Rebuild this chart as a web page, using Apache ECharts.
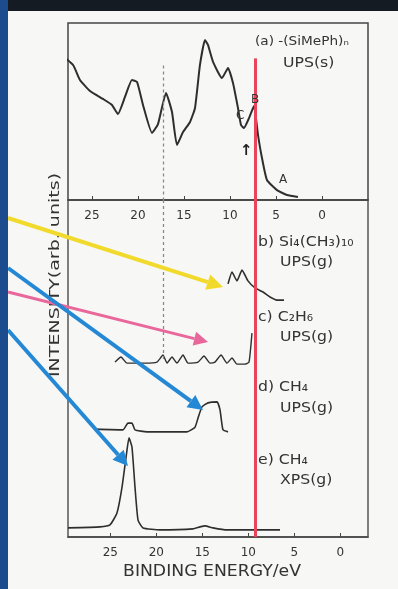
<!DOCTYPE html>
<html>
<head>
<meta charset="utf-8">
<script src="https://cdn.jsdelivr.net/npm/echarts@6/dist/echarts.min.js"></script>
<style>
  html, body { margin: 0; padding: 0; background: #f7f8f6; }
  #chart { width: 398px; height: 589px; }
</style>
</head>
<body>
<div id="chart"></div>
<script>
// (a) polysilane solid-state UPS, upper scale (eV) and intensity (arb.)
const aEnergy    = [29.0, 27.06, 26.30, 25.21, 23.80, 22.82, 22.17, 21.41, 20.65, 20.10, 19.45, 18.47, 17.82, 16.95, 16.30, 15.76, 15.10, 14.34, 13.80, 13.26, 12.71, 12.39, 11.84, 10.87, 10.21, 9.67, 9.13, 8.80, 8.48, 7.93, 7.39, 6.95, 6.52, 5.98, 4.89, 3.80, 2.61];
const aIntensity = [84.7, 76.3, 67.8, 61.6, 57.1, 53.7, 48.6, 58.2, 67.8, 66.7, 53.7, 37.9, 42.9, 60.5, 49.7, 31.1, 38.4, 44.1, 52.0, 76.3, 90.4, 87.6, 78.0, 68.9, 74.6, 66.1, 52.0, 42.4, 40.7, 46.3, 53.1, 36.7, 23.7, 11.3, 5.6, 2.8, 1.7];

// (b) Si4(CH3)10 gas UPS, lower scale
const bEnergy    = [12.21, 11.78, 11.24, 10.69, 10.04, 9.28, 8.41, 7.65, 6.89, 6.13];
const bIntensity = [75.1, 78.6, 76.0, 79.2, 76.0, 73.9, 72.7, 71.2, 70.3, 70.3];

// (c) C2H6 gas UPS
const cEnergy    = [24.49, 23.84, 23.19, 21.23, 19.93, 19.28, 18.84, 18.30, 17.76, 17.10, 16.56, 15.47, 14.82, 14.17, 13.63, 12.97, 12.32, 11.78, 11.24, 10.37, 9.93, 9.61];
const cIntensity = [51.9, 53.4, 51.6, 51.6, 51.9, 54.0, 51.6, 53.4, 51.6, 54.0, 51.6, 51.9, 53.7, 51.6, 51.9, 54.0, 51.6, 53.1, 51.3, 51.3, 51.9, 60.5];

// (d) CH4 gas UPS
const dEnergy    = [26.67, 23.62, 23.08, 22.65, 22.32, 21.02, 16.67, 15.80, 15.47, 15.04, 14.39, 13.41, 13.08, 12.76, 12.21];
const dIntensity = [32.0, 31.8, 33.8, 33.8, 31.8, 31.2, 31.2, 32.6, 35.3, 38.6, 39.8, 40.1, 37.7, 31.8, 31.2];

// (e) CH4 gas XPS
const eEnergy    = [29.6, 26.12, 25.04, 24.28, 23.73, 23.19, 22.97, 22.65, 22.32, 21.99, 21.45, 19.60, 16.02, 15.26, 14.71, 13.84, 12.32, 9.61, 6.56];
const eIntensity = [2.7, 3.0, 3.6, 7.1, 14.8, 25.8, 29.4, 26.7, 14.8, 5.0, 2.7, 2.1, 2.4, 3.0, 3.3, 2.7, 2.1, 2.1, 2.1];

// axis ticks
const tickValues = [0, 5, 10, 15, 20, 25];

// reference lines: [upper-scale eV, lower-scale eV]
const vacuumLineEV = [7.28, 9.28];
const dashedLineEV = [17.28, 19.28];

const pairs = (xs, ys) => xs.map((x, i) => [x, ys[i]]);

const FONT = 'DejaVu Sans';
const INK = '#2e2e2e';

function axisX(gridIndex, min, max) {
  return {
    type: 'value', gridIndex, min, max, inverse: true, position: 'bottom',
    axisLine: { show: true, lineStyle: { color: '#444', width: 1.5 } },
    axisTick: { show: true, inside: true, length: 4, customValues: tickValues, lineStyle: { color: '#444' } },
    axisLabel: { customValues: tickValues, margin: 10, fontFamily: FONT, fontSize: 12, color: '#333' },
    splitLine: { show: false }
  };
}
function axisY(gridIndex) {
  return { type: 'value', gridIndex, min: 0, max: 100, show: false, splitLine: { show: false } };
}
function spectrum(name, xs, ys, grid, width) {
  return {
    name, type: 'line', xAxisIndex: grid, yAxisIndex: grid,
    data: pairs(xs, ys), showSymbol: false, smooth: 0.15, silent: true,
    lineStyle: { color: INK, width: width }, z: 3
  };
}
function vline(x, y1, y2, color, width, type) {
  return [{ coord: [x, y1], lineStyle: { color, width, type } }, { coord: [x, y2] }];
}

const series = [
  spectrum('a', aEnergy, aIntensity, 0, 2),
  spectrum('b', bEnergy, bIntensity, 1, 1.6),
  spectrum('c', cEnergy, cIntensity, 1, 1.4),
  spectrum('d', dEnergy, dIntensity, 1, 1.6),
  spectrum('e', eEnergy, eIntensity, 1, 1.6),
  {
    type: 'line', xAxisIndex: 0, yAxisIndex: 0, data: [], z: 5,
    markLine: { silent: true, symbol: 'none', label: { show: false }, animation: false,
      data: [ vline(dashedLineEV[0], 76, 0, '#8a8a8a', 1.3, [3, 3]),
              vline(vacuumLineEV[0], 80, 0, '#e8455a', 3, 'solid') ] }
  },
  {
    type: 'line', xAxisIndex: 1, yAxisIndex: 1, data: [], z: 5,
    markLine: { silent: true, symbol: 'none', label: { show: false }, animation: false,
      data: [ vline(dashedLineEV[1], 100, 52.5, '#8a8a8a', 1.3, [3, 3]),
              vline(vacuumLineEV[1], 100, 0, '#e8455a', 3, 'solid') ] }
  }
];

// annotation arrows pointing at the spectra
function arrow(x1, y1, x2, y2, color, w, head) {
  const ang = Math.atan2(y2 - y1, x2 - x1);
  const bx = x2 - head * Math.cos(ang), by = y2 - head * Math.sin(ang);
  const px = Math.sin(ang) * head * 0.5, py = -Math.cos(ang) * head * 0.5;
  return [
    { type: 'line', z: 50, silent: true, shape: { x1, y1, x2: bx, y2: by },
      style: { stroke: color, lineWidth: w } },
    { type: 'polygon', z: 50, silent: true,
      shape: { points: [[x2, y2], [bx + px, by + py], [bx - px, by - py]] },
      style: { fill: color } }
  ];
}
// text placed at (x, y), optionally stretched horizontally
function label(text, x, y, size, opts) {
  opts = opts || {};
  return {
    type: 'text', z: 40, silent: true, x, y,
    rotation: opts.rotation || 0,
    scaleX: opts.scaleX || 1.12,
    style: {
      text, fill: opts.fill || '#333',
      font: (opts.weight ? opts.weight + ' ' : '') + size + 'px "' + FONT + '"',
      textAlign: opts.align || 'left', textVerticalAlign: 'middle'
    }
  };
}

const graphic = [
  { type: 'rect', z: 60, silent: true, shape: { x: 0, y: 0, width: 398, height: 11 }, style: { fill: '#141b22' } },
  { type: 'rect', z: 60, silent: true, shape: { x: 0, y: 0, width: 8, height: 589 }, style: { fill: '#1c4b8e' } },
  ...arrow(8, 218, 223, 287, '#f1da2c', 4, 16),
  ...arrow(8, 292, 208, 342, '#e9689c', 3, 14),
  ...arrow(8, 268, 203, 410, '#2488d4', 4, 15),
  ...arrow(8, 330, 128, 466, '#2488d4', 4, 15),
  label('(a) -(SiMePh)ₙ', 255, 42, 13, { scaleX: 1.05 }),
  label('UPS(s)', 283, 63, 14),
  label('C', 236, 116, 12, { scaleX: 1 }),
  label('B', 251, 100, 12, { scaleX: 1 }),
  label('↑', 240, 151, 15, { scaleX: 1, weight: 'bold', fill: '#222' }),
  label('A', 279, 180, 12, { scaleX: 1 }),
  label('b) Si₄(CH₃)₁₀', 258, 242, 14),
  label('UPS(g)', 280, 262, 14),
  label('c) C₂H₆', 258, 317, 14),
  label('UPS(g)', 280, 337, 14),
  label('d) CH₄', 258, 387, 14),
  label('UPS(g)', 280, 408, 14),
  label('e) CH₄', 258, 460, 14),
  label('XPS(g)', 280, 480, 14),
  label('INTENSITY(arb. units)', 55, 377, 14, { rotation: Math.PI / 2, scaleX: 1.36 }),
  label('BINDING ENERGY/eV', 212, 572, 15, { align: 'center', scaleX: 1.15 })
];

const chart = echarts.init(document.getElementById('chart'), null, { renderer: 'canvas' });
chart.setOption({
  animation: false,
  backgroundColor: '#f7f8f6',
  grid: [
    { left: 68, top: 23, width: 300, height: 177, show: true, borderColor: '#444', borderWidth: 1.5 },
    { left: 68, top: 200, width: 300, height: 337, show: true, borderColor: '#555', borderWidth: 1.5 }
  ],
  xAxis: [ axisX(0, -5, 27.6), axisX(1, -3, 29.6) ],
  yAxis: [ axisY(0), axisY(1) ],
  series,
  graphic
});
</script>
</body>
</html>
